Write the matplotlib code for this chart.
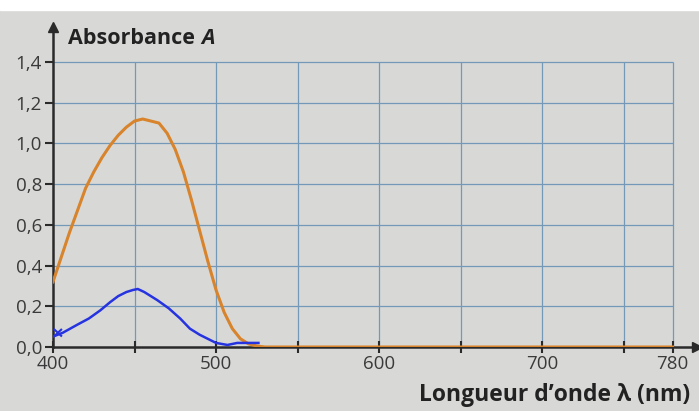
import numpy as np
import matplotlib.pyplot as plt

# Orange spectrum
wl_orange = [400, 405, 410, 415, 420, 425, 430, 435, 440, 445, 450, 455, 460, 465,
             470, 475, 480, 485, 490, 495, 500, 505, 510, 515, 520, 525, 530, 600, 700, 780]
A_orange = [0.32, 0.44, 0.56, 0.67, 0.78, 0.86, 0.93, 0.99, 1.04, 1.08, 1.11, 1.12, 1.11, 1.10,
            1.05, 0.97, 0.86, 0.72, 0.57, 0.42, 0.28, 0.17, 0.09, 0.04, 0.015, 0.005, 0.0, 0.0, 0.0, 0.0]

# Blue hand-drawn curve
wl_blue = [398, 406, 415, 422, 429, 435, 440, 445, 449, 452, 456, 464, 471, 478,
           484, 490, 495, 500, 507, 513, 520, 526]
A_blue = [0.045, 0.07, 0.11, 0.14, 0.18, 0.22, 0.25, 0.27, 0.28, 0.285, 0.27, 0.23, 0.19, 0.14,
          0.09, 0.06, 0.04, 0.02, 0.01, 0.02, 0.02, 0.02]

x_ticks = [400, 500, 600, 700, 780]
x_minor = [450, 550, 650, 750]
y_ticks = [0.0, 0.2, 0.4, 0.6, 0.8, 1.0, 1.2, 1.4]
y_labels = ['0,0', '0,2', '0,4', '0,6', '0,8', '1,0', '1,2', '1,4']

plt.rcParams['font.family'] = ['Open Sans', 'DejaVu Sans']

fig = plt.figure(figsize=(6.99, 4.11), dpi=100, facecolor='#d8d9d7')
fig.patches.append(plt.Rectangle((0, 1 - 10 / 411), 1, 10 / 411, transform=fig.transFigure,
                                 color='white', zorder=0))
ax = fig.add_axes([53 / 699, 1 - 347 / 411, 644 / 699, 319.6 / 411])
ax.set_facecolor('none')
ax.set_xlim(400, 795)
ax.set_ylim(0, 1.57)

grid_c = '#7499b8'
ax.hlines(y_ticks[1:], 400, 780, color=grid_c, lw=0.9, zorder=1)
ax.vlines(x_minor + x_ticks[1:], 0, 1.4, color=grid_c, lw=0.9, zorder=1)

ax.plot(wl_orange, A_orange, color='#d8842c', lw=2.2, zorder=3)
ax.plot(wl_blue, A_blue, color='#2633e0', lw=1.8, zorder=4)
ax.plot([401, 405], [0.055, 0.085], color='#2633e0', lw=1.5, zorder=4)
ax.plot([401, 405], [0.085, 0.055], color='#2633e0', lw=1.5, zorder=4)

for s in ['top', 'right']:
    ax.spines[s].set_visible(False)
for s in ['left', 'bottom']:
    ax.spines[s].set_color('#2a2a2a')
    ax.spines[s].set_linewidth(1.8)
ax.plot(400, 1.57, '^', color='#2a2a2a', ms=7, clip_on=False, zorder=5)
ax.plot(795, 0, '>', color='#2a2a2a', ms=7, clip_on=False, zorder=5)

ax.set_xticks(x_ticks)
ax.set_xticks(x_minor, minor=True)
ax.set_yticks(y_ticks)
ax.set_yticklabels(y_labels)
ax.tick_params(axis='x', which='both', direction='inout', length=9, width=1.5,
               color='#2a2a2a', labelsize=13.5, labelcolor='#3a3a3a', pad=1)
ax.tick_params(axis='y', direction='out', length=6, width=1.5, color='#2a2a2a',
               labelsize=13.5, labelcolor='#3a3a3a', pad=2)

t = fig.text(68 / 699, 1 - 38 / 411, 'Absorbance', fontsize=15.5, fontweight='bold',
             color='#222222', va='center', ha='left')
fig.canvas.draw()
bb = t.get_window_extent()
fig.text((bb.x1 + 6) / 699, 1 - 38 / 411, 'A', fontsize=15.5, fontweight='bold', style='italic',
         color='#222222', va='center', ha='left')
fig.text(690 / 699, 1 - 395 / 411, 'Longueur d\u2019onde \u03bb (nm)', fontsize=16.5,
         fontweight='bold', color='#222222', va='center', ha='right')

fig.savefig('out.png', dpi=100, facecolor=fig.get_facecolor())
